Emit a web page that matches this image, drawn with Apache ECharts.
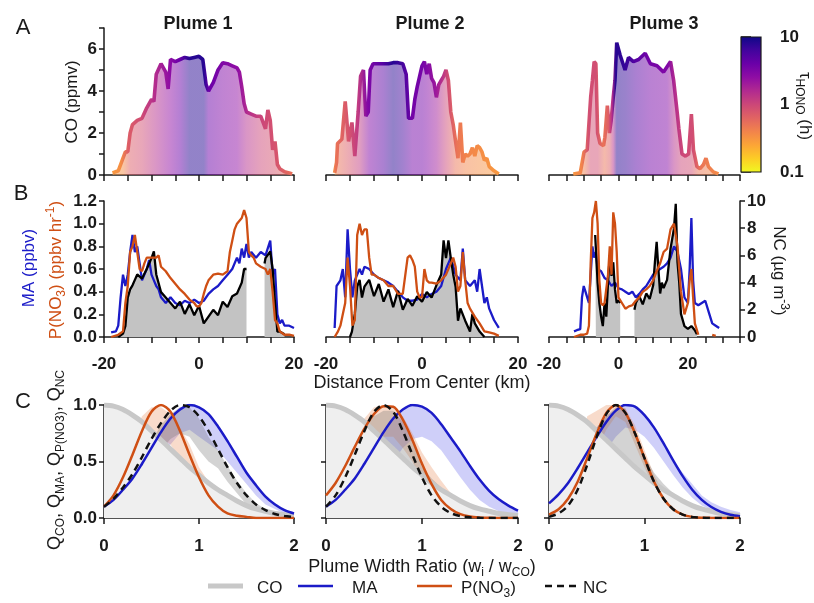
<!DOCTYPE html>
<html>
<head>
<meta charset="utf-8">
<script src="https://cdn.jsdelivr.net/npm/echarts@6/dist/echarts.min.js"></script>
<style>
  html, body { margin: 0; padding: 0; background: #fff; }
  #chart { width: 814px; height: 603px; }
</style>
</head>
<body>
<div id="chart"></div>
<script>
// ---------- A: CO transects (ppmv), colour = HONO lifetime (h) ----------
const coX1 = [-18.2,-17,-16,-15.5,-15,-14.5,-14,-13,-12,-11,-10,-9.5,-9,-8,-7,-6.5,-6,-5,-4,-3,-2,-1,0,0.8,1.5,2,3,4,5,6,7,8,8.5,9,9.5,10,11,12,13,14,14.5,15,15.5,16,16.5,17,18,19,19.6];
const co1  = [0.1,0.2,0.8,1.1,1.1,2.0,2.4,2.6,2.7,3.2,3.6,3.5,4.8,5.3,4.9,4.1,5.5,5.4,5.5,5.6,5.55,5.6,5.65,5.5,4.3,4.0,4.4,5.0,5.35,5.3,5.2,5.1,4.9,4.2,3.4,3.0,2.9,2.8,2.8,2.2,3.1,2.6,1.2,1.6,0.5,0.3,0.15,0.1,0.05];
const coX2 = [-18.2,-17.8,-17.6,-16.7,-16,-15.3,-14.6,-14,-13.3,-12.8,-12.2,-11.7,-11.2,-10.8,-10.2,-9,-8,-7,-6,-5,-4,-3.3,-2.8,-2,-1.5,-1,0,0.5,1,1.5,2,2.5,3,3.5,4,4.5,5,5.5,6,6.5,7,7.5,8,8.5,9,9.5,10,10.5,11,11.5,12,12.5,13,13.5,14,15,16];
const co2  = [0.1,0.6,1.5,1.7,3.5,1.6,2.5,0.9,3.0,4.7,5.0,2.8,3.0,5.0,5.3,5.3,5.3,5.3,5.35,5.35,5.3,4.8,2.7,2.7,3.6,4.2,5.2,5.4,4.8,5.3,4.6,4.4,3.7,4.3,4.5,4.7,5.0,4.5,3.0,2.4,1.6,0.8,2.5,0.6,1.0,0.9,1.0,1.3,0.9,1.4,1.3,1.1,0.7,0.8,0.4,0.2,0.05];
const coX3 = [-13,-11,-9.9,-9,-8,-7.5,-7,-6.5,-6,-5.3,-4.3,-3.9,-3.2,-2.6,-2.1,-1.5,-1,-0.5,0.5,1.9,2.9,4.3,5.8,7.7,9.2,11.1,13,15,15.9,16.9,17.4,18.3,19.3,20.2,21,21.6,22.6,23.5,24.5,25.2,25.9,27.3,28.8];
const co3  = [0.05,0.1,1.1,1.2,3.7,4.5,5.4,5.3,2.0,1.5,1.4,1.8,3.3,2.0,2.6,3.7,4.5,6.3,5.7,5.0,5.6,5.4,5.5,5.8,5.3,5.2,4.9,5.4,4.5,3.0,2.2,1.0,0.9,1.0,2.9,1.2,0.4,0.3,0.5,0.8,0.4,0.15,0.05];

const tauX1 = [-18.2,-16,-14.5,-12,-9,-6,-4,-2,1,2,5,8,10,13,16,19.6];
const tau1  = [0.3,0.35,0.7,0.9,1.5,2.5,4,8,8,4,3,2.5,1.5,1,0.8,0.5];
const tauX2 = [-18.2,-17.5,-15,-13,-11,-8,-6,-4,-2,0,1,3,5,7,9,12,16];
const tau2  = [0.3,0.5,0.8,1.2,3,5,8,6,3.5,3.5,3,2,1,0.5,0.4,0.35,0.3];
const tauX3 = [-13,-10,-8,-6,-4,-2.5,-1.5,-0.5,2,5,9,14,16,18,21,23,28.8];
const tau3  = [0.3,0.4,0.9,0.9,0.5,0.7,1.5,8,7,5,3.5,3,1.5,1,0.9,0.5,0.35];
const tauTicks = ['0.1', '1', '10'];

// ---------- B: MA (ppbv), P(NO3) (ppbv/hr), NC (ug/m3) ----------
const maX1 = [-18.5,-17.5,-17,-16.5,-16,-15.5,-15,-14.5,-14,-13.5,-13,-12.5,-12,-11.5,-11,-10.5,-10,-9.5,-9,-8.5,-8,-7,-6,-5,-4,-3,-2,-1,0,1,2,3,4,5,6,7,8,8.5,9,9.5,10,10.5,11,12,13,14,15,15.5,16,16.5,17,17.5,18,19,20];
const ma1  = [0.04,0.05,0.1,0.35,0.55,0.45,0.55,0.75,0.9,0.75,0.8,0.65,0.5,0.55,0.6,0.68,0.55,0.5,0.45,0.42,0.35,0.3,0.35,0.3,0.28,0.32,0.3,0.33,0.3,0.32,0.38,0.42,0.45,0.5,0.55,0.6,0.7,0.65,0.78,0.7,0.82,0.7,0.75,0.7,0.75,0.72,0.85,0.55,0.6,0.2,0.12,0.15,0.1,0.1,0.08];
const pnX1 = [-18.5,-17,-16,-15.5,-15,-14.5,-14,-13.5,-13,-12.5,-12,-11.5,-11,-10,-9,-8.5,-8,-7,-6,-5,-4,-3,-2,-1,-0.5,0,0.5,1,1.5,2,3,4,5,6,6.5,7,7.5,8,9,9.5,10,10.5,11,11.5,12,13,14,14.5,15,15.5,16,16.5,17,18,19,20];
const pn1  = [0,0.02,0.05,0.3,0.45,0.75,0.8,0.9,0.75,0.6,0.58,0.65,0.7,0.7,0.7,0.72,0.62,0.58,0.52,0.47,0.42,0.38,0.33,0.3,0.27,0.27,0.3,0.38,0.45,0.5,0.55,0.56,0.55,0.58,0.75,0.85,0.95,1.0,1.05,1.12,1.05,0.75,0.72,0.7,0.65,0.62,0.6,0.55,0.6,0.4,0.15,0.12,0.05,0.02,0.02,0.01];
const ncX1 = [-17,-16,-15.5,-15,-14.5,-14,-13.5,-13,-12,-11,-10,-9.5,-9,-8,-7,-6,-5,-4,-3,-2,-1,0,1,2,3,4,5,6,7,8,9,9.5,10,12,13.8,14,15,15.5,16,16.5,17,18];
const nc1  = [0,0.25,0.8,2.9,3.5,3.8,4.2,4.6,4.3,5.0,5.8,6.3,4.6,3.3,2.9,2.5,2.1,2.6,1.7,2.4,1.6,2.3,1.0,1.5,2.0,1.6,2.6,2.2,3.0,3.2,4.0,5.0,5.0,null,5.4,5.8,6.3,5.0,2.5,0.4,0.4,0.2];

const maX2 = [-18.2,-17.8,-17,-16.5,-16,-15.5,-15,-14.5,-14,-13.5,-13,-12.5,-12,-11,-10,-9,-8,-7,-6,-5,-4,-3,-2,-1,0,1,2,3,4,5,6,7,8,8.5,9,10,11,11.5,12,12.5,13,13.5,14,15,16];
const ma2  = [0.08,0.45,0.5,0.6,0.35,0.95,0.6,0.35,0.5,0.55,0.6,0.55,0.62,0.6,0.55,0.52,0.5,0.48,0.45,0.4,0.35,0.32,0.32,0.33,0.38,0.35,0.38,0.4,0.45,0.6,0.7,0.55,0.5,0.78,0.5,0.45,0.5,0.4,0.6,0.45,0.3,0.35,0.25,0.15,0.08];
const pnX2 = [-18.2,-17.5,-17,-16.5,-16,-15.5,-15,-14.5,-14,-13.5,-13,-12.5,-12,-11.5,-11,-10.5,-10,-9,-8,-7,-6,-5,-4,-3,-2.5,-2,-1.5,-1,-0.5,0,0.5,1,1.5,2,3,4,5,6,6.5,7,7.5,8,8.5,9,9.5,10,11,12,13,14,15,16];
const pn2  = [0,0.05,0.1,0.2,0.3,0.7,0.45,0.1,0.15,0.9,1.0,0.9,0.95,0.95,0.7,0.55,0.55,0.52,0.5,0.45,0.45,0.38,0.38,0.7,0.72,0.68,0.62,0.4,0.35,0.35,0.6,0.5,0.48,0.48,0.47,0.5,0.55,0.65,0.7,0.62,0.4,0.45,0.75,0.5,0.3,0.25,0.18,0.12,0.05,0.04,0.03,0.01];
const ncX2 = [-15,-14.6,-14,-13.5,-13,-12.5,-12,-11,-10,-9,-8,-7,-6,-5,-4,-3,-2,-1,0,1,2,3,4,4.5,5,5.5,6,6.5,7,7.5,8,9,10,10.5,11,12,13];
const nc2  = [0,0.4,1.7,3.7,4.2,2.9,3.7,4.2,3.0,3.9,2.6,3.5,2.2,3.4,2.0,2.8,2.3,3.0,2.6,3.3,2.9,3.8,4.6,7.1,5.8,7.1,5.8,4.6,3.7,1.2,2.1,1.2,0.4,1.7,1.0,0.4,0];

const maX3 = [-12.8,-12,-11,-10.5,-10,-9.5,-9,-8.5,-8,-7.5,-7,-6.5,-6,-5,-4,-3,-2,-1,0,1,2,3,4,5,6,7,8,9,10,11,12,13,14,15,16,17,18,19,20,20.5,21,21.5,22,23,24,25,26,27,28,29];
const ma3  = [0.05,0.06,0.07,0.35,0.45,0.4,0.35,0.3,0.55,0.8,0.7,0.75,0.6,0.58,0.52,0.5,0.45,0.48,0.43,0.42,0.4,0.38,0.4,0.35,0.38,0.42,0.45,0.5,0.55,0.58,0.6,0.62,0.65,0.7,0.8,0.75,0.6,0.35,0.3,0.6,1.05,0.5,0.3,0.28,0.3,0.32,0.22,0.12,0.1,0.08];
const pnX3 = [-12.8,-11,-10,-9,-8.5,-8,-7.5,-7,-6.5,-6,-5.5,-5,-4.5,-4,-3,-2.5,-2,-1.5,-1,-0.5,0,1,2,3,4,5,6,7,8,9,10,11,12,13,14,15,16,17,18,19,20,20.5,21,21.5,22,23,25,27,28];
const pn3  = [0,0.02,0.02,0.03,0.1,0.65,1.05,1.1,1.2,1.0,0.5,0.3,0.28,0.3,0.55,0.8,0.55,1.1,1.0,0.75,0.35,0.3,0.25,0.27,0.28,0.32,0.35,0.4,0.42,0.45,0.5,0.58,0.65,0.75,0.78,0.95,1.0,0.8,0.4,0.2,0.3,0.5,0.6,0.35,0.12,0.02,null,0.02,0.01];
const ncX3 = [-6.7,-6.5,-6,-5.5,-5,-4.5,-4,-3.5,-3,-2.5,-2,-1.5,-1,-0.5,0,0.5,2,4.6,5,6,7,8,9,10,10.5,11,11.5,12,12.5,13,14,15,16,16.5,17,17.5,18,19,20,21,22,22.6];
const nc3  = [7.5,6.5,4.0,2.5,1.5,0.8,2.5,1.5,4.0,6.0,4.5,5.5,3.5,2.5,2.7,2.5,null,2.0,2.5,3.0,2.4,3.2,2.8,3.8,5.5,7.0,5.0,3.2,4.0,3.6,4.2,6.5,8.0,9.8,5.5,4.0,1.7,0.8,0.6,0.8,0.5,0.2];

// ---------- C: normalised profiles vs plume width ratio ----------
const wr    = [0,0.1,0.2,0.3,0.4,0.5,0.6,0.7,0.8,0.9,1.0,1.1,1.2,1.3,1.4,1.5,1.6,1.7,1.8,1.9,2.0];
const coFit = [1.0,0.99,0.96,0.91,0.85,0.77,0.69,0.61,0.53,0.45,0.38,0.31,0.25,0.2,0.15,0.11,0.08,0.06,0.04,0.03,0.02];

const maFit1 = [0.1,0.16,0.25,0.35,0.48,0.62,0.76,0.88,0.96,1.0,0.98,0.92,0.81,0.68,0.54,0.4,0.29,0.19,0.12,0.07,0.04];
const pnFit1 = [0.1,0.2,0.36,0.56,0.77,0.94,1.0,0.94,0.77,0.56,0.36,0.2,0.1,0.04,0.02,0.01,0,0,0,0,0];
const ncFit1 = [0.1,0.17,0.27,0.39,0.54,0.7,0.84,0.95,1.0,0.98,0.9,0.77,0.61,0.45,0.31,0.2,0.12,0.07,0.035,0.017,0.008];
const maLo1 = [0.12,0.15,0.2,0.28,0.35,0.42,0.55,0.65,0.75,0.78,0.72,0.66,0.6,0.5,0.4,0.3,0.2,0.12,0.08,0.04,0.02];
const maHi1 = [0.3,0.28,0.3,0.38,0.5,0.62,0.78,0.9,0.98,1.0,0.98,0.92,0.82,0.7,0.56,0.42,0.3,0.2,0.13,0.08,0.05];
const pnLo1 = [0.1,0.15,0.3,0.45,0.6,0.68,0.7,0.65,0.52,0.4,0.25,0.15,0.1,0.07,0.05,0.03,0.02,0.01,0,0,0];
const pnHi1 = [0.2,0.3,0.5,0.72,0.9,0.98,0.98,0.92,0.8,0.65,0.45,0.32,0.25,0.2,0.15,0.1,0.06,0.03,0.02,0.01,0];
const ncLo1 = [0.1,0.12,0.18,0.3,0.4,0.5,0.6,0.7,0.75,0.72,0.6,0.5,0.44,0.32,0.22,0.12,0.07,0.05,0.03,0.01,0];
const ncHi1 = [0.38,0.3,0.3,0.42,0.55,0.68,0.82,0.92,0.98,0.98,0.88,0.72,0.6,0.46,0.33,0.22,0.13,0.08,0.05,0.02,0.01];

const maFit2 = [0.1,0.16,0.25,0.35,0.48,0.62,0.76,0.88,0.96,1.0,0.985,0.93,0.83,0.71,0.59,0.46,0.34,0.24,0.165,0.11,0.066];
const pnFit2 = [0.2,0.31,0.46,0.63,0.79,0.92,0.99,0.985,0.87,0.69,0.48,0.3,0.16,0.08,0.034,0.013,0.005,0.002,0,0,0];
const ncFit2 = [0.1,0.2,0.36,0.56,0.77,0.94,1.0,0.94,0.77,0.56,0.36,0.2,0.1,0.043,0.017,0.006,0.002,0,0,0,0];
const maLo2 = [0.22,0.3,0.3,0.3,0.32,0.35,0.4,0.5,0.62,0.7,0.72,0.68,0.6,0.48,0.36,0.25,0.16,0.1,0.06,0.03,0.02];
const maHi2 = [0.46,0.47,0.5,0.55,0.6,0.65,0.76,0.88,0.96,1.0,0.985,0.93,0.83,0.71,0.59,0.46,0.34,0.24,0.165,0.11,0.066];
const pnLo2 = [0.2,0.25,0.35,0.45,0.55,0.65,0.72,0.72,0.62,0.5,0.3,0.25,0.15,0.08,0.04,0.02,0.01,0,0,0,0];
const pnHi2 = [0.45,0.45,0.5,0.7,0.88,0.98,1.0,0.99,0.9,0.75,0.58,0.45,0.33,0.22,0.12,0.06,0.03,0.01,0,0,0];
const ncLo2 = [0.1,0.12,0.25,0.4,0.5,0.55,0.6,0.6,0.55,0.45,0.3,0.2,0.12,0.07,0.04,0.02,0.01,0,0,0,0];
const ncHi2 = [0.3,0.35,0.5,0.72,0.85,0.9,0.95,0.95,0.85,0.68,0.45,0.35,0.27,0.2,0.14,0.09,0.05,0.03,0.02,0.01,0];

const maFit3 = [0.13,0.21,0.31,0.44,0.58,0.72,0.85,0.95,1.0,0.985,0.91,0.8,0.66,0.51,0.37,0.25,0.16,0.097,0.055,0.029,0.015];
const pnFit3 = [0.03,0.077,0.17,0.32,0.53,0.75,0.93,1.0,0.93,0.75,0.53,0.32,0.17,0.077,0.03,0.01,0.003,0.001,0,0,0];
const ncFit3 = [0.01,0.04,0.11,0.25,0.47,0.72,0.92,1.0,0.93,0.75,0.53,0.32,0.17,0.077,0.03,0.01,0.003,0,0,0,0];
const maLo3 = [0.2,0.22,0.25,0.3,0.45,0.5,0.6,0.72,0.8,0.78,0.72,0.62,0.5,0.38,0.27,0.18,0.11,0.07,0.04,0.02,0.01];
const maHi3 = [0.36,0.35,0.36,0.45,0.75,0.8,0.9,0.97,1.0,0.985,0.91,0.8,0.66,0.51,0.4,0.3,0.2,0.14,0.1,0.07,0.05];
const pnLo3 = [0.02,0.05,0.12,0.25,0.42,0.6,0.78,0.9,0.85,0.65,0.45,0.27,0.13,0.05,0.02,0.01,0,0,0,0,0];
const pnHi3 = [0.1,0.12,0.2,0.45,0.9,0.95,1.0,1.0,0.97,0.82,0.6,0.38,0.22,0.11,0.05,0.02,0.01,0,0,0,0];
const ncLo3 = [0.01,0.03,0.08,0.2,0.35,0.4,0.45,0.5,0.5,0.42,0.3,0.22,0.15,0.1,0.07,0.05,0.03,0.02,0.01,0,0];
const ncHi3 = [0.15,0.15,0.2,0.4,0.7,0.8,0.9,0.98,0.97,0.78,0.55,0.4,0.3,0.22,0.16,0.12,0.09,0.06,0.04,0.02,0.01];

// ---------- styling ----------
const FONT = '"Liberation Sans", Arial, Helvetica, sans-serif';
const INK = '#1a1a1a';
const BLUE = '#1b1bc8';
const ORANGE = '#cf4f14';
const PLASMA = ['#0d0887','#41049d','#6a00a8','#8f0da4','#b12a90','#cc4778','#e16462','#f2844b','#fca636','#fcce25','#f0f921'];

const colLeft = [104, 326, 549];
const colWidth = [190, 192, 191];
const rowTop = [28, 201, 405];
const rowHeight = [147, 136, 113];
const xMax = [20, 20, 35];

const zip = (xs, ys) => xs.map((x, i) => [x, ys[i]]);

function hexRgb(h) {
  return [parseInt(h.slice(1, 3), 16), parseInt(h.slice(3, 5), 16), parseInt(h.slice(5, 7), 16)];
}
function plasma(t) {
  t = Math.max(0, Math.min(1, t));
  const pos = t * (PLASMA.length - 1);
  const i = Math.min(Math.floor(pos), PLASMA.length - 2);
  const f = pos - i;
  const a = hexRgb(PLASMA[i]), b = hexRgb(PLASMA[i + 1]);
  return 'rgb(' + a.map((v, k) => Math.round(v + (b[k] - v) * f)).join(',') + ')';
}
// 10 h -> dark end, 0.1 h -> yellow end
const tauColor = tau => plasma((1 - Math.log10(tau)) / 2);

function tauGradient(xs, tx, tv) {
  const x0 = xs[0], x1 = xs[xs.length - 1];
  const stops = tx.map((x, i) => ({
    offset: Math.max(0, Math.min(1, (x - x0) / (x1 - x0))),
    color: tauColor(tv[i])
  }));
  return new echarts.graphic.LinearGradient(0, 0, 1, 0, stops);
}

const axisLine = { show: true, onZero: false, lineStyle: { color: INK, width: 1.5 } };
const tick = len => ({ show: true, length: len, lineStyle: { color: INK, width: 1.5 } });
const lbl = extra => Object.assign({ color: INK, fontSize: 17, fontWeight: 'bold', fontFamily: FONT }, extra);

// ---------- grids / axes ----------
const grid = [];
for (let r = 0; r < 3; r++) {
  for (let c = 0; c < 3; c++) {
    grid.push({ left: colLeft[c], width: colWidth[c], top: rowTop[r], height: rowHeight[r],
      containLabel: false, outerBoundsMode: 'none' });
  }
}
grid.push({ left: 741, top: 37, width: 20, height: 135, containLabel: false, outerBoundsMode: 'none' });

const xAxis = [];
for (let p = 0; p < 3; p++) {
  xAxis.push({ type: 'value', gridIndex: p, min: -20, max: xMax[p], interval: 5,
    axisLine, axisTick: tick(6), axisLabel: { show: false }, splitLine: { show: false } });
}
for (let p = 0; p < 3; p++) {
  xAxis.push({ type: 'value', gridIndex: 3 + p, min: -20, max: xMax[p], interval: 5,
    axisLine, axisTick: tick(6), splitLine: { show: false },
    axisLabel: lbl({ margin: 19, formatter: v => (v % 20 === 0 ? String(v) : '') }) });
}
for (let p = 0; p < 3; p++) {
  xAxis.push({ type: 'value', gridIndex: 6 + p, min: 0, max: 2, interval: 1,
    axisLine, axisTick: tick(6), splitLine: { show: false }, axisLabel: lbl({ margin: 20 }) });
}
xAxis.push({ type: 'value', gridIndex: 9, min: 0, max: 1, show: false });

const yAxis = [];
for (let p = 0; p < 3; p++) { // 0-2 CO
  yAxis.push({ type: 'value', gridIndex: p, min: 0, max: 7, interval: 1, show: p === 0,
    axisLine, axisTick: tick(5), splitLine: { show: false },
    axisLabel: lbl({ margin: 7, formatter: v => (v % 2 === 0 ? String(v) : '') }) });
}
for (let p = 0; p < 3; p++) { // 3-5 ppbv
  yAxis.push({ type: 'value', gridIndex: 3 + p, min: 0, max: 1.2, interval: 0.2, show: p === 0,
    axisLine, axisTick: tick(5), splitLine: { show: false },
    axisLabel: lbl({ margin: 7, formatter: v => v.toFixed(1) }) });
}
for (let p = 0; p < 3; p++) { // 6-8 NC
  yAxis.push({ type: 'value', gridIndex: 3 + p, min: 0, max: 10, interval: 2, position: 'right',
    show: p === 2, axisLine, axisTick: tick(5), splitLine: { show: false },
    axisLabel: lbl({ margin: 7 }) });
}
for (let p = 0; p < 3; p++) { // 9-11 Q
  yAxis.push({ type: 'value', gridIndex: 6 + p, min: 0, max: 1, interval: 0.5,
    axisLine, axisTick: tick(5), splitLine: { show: false },
    axisLabel: lbl({ margin: 7, show: p === 0, formatter: v => v.toFixed(1) }) });
}
yAxis.push({ type: 'value', gridIndex: 9, min: -1, max: 1, interval: 1, position: 'right',
  axisLine: { show: false }, axisTick: tick(10), splitLine: { show: false },
  axisLabel: lbl({ margin: 19, formatter: v => tauTicks[Math.round(v) + 1] }) });

// ---------- series ----------
const series = [];
const coXs = [coX1, coX2, coX3], coVs = [co1, co2, co3];
const tauXs = [tauX1, tauX2, tauX3], tauVs = [tau1, tau2, tau3];
for (let p = 0; p < 3; p++) {
  series.push({
    type: 'line', name: 'co' + p, xAxisIndex: p, yAxisIndex: p, symbol: 'none', silent: true,
    data: zip(coXs[p], coVs[p]),
    lineStyle: { width: 3.6, color: tauGradient(coXs[p], tauXs[p], tauVs[p]) },
    areaStyle: { color: tauGradient(coXs[p], tauXs[p], tauVs[p]), opacity: 0.5 }
  });
}

const maXs = [maX1, maX2, maX3], maVs = [ma1, ma2, ma3];
const pnXs = [pnX1, pnX2, pnX3], pnVs = [pn1, pn2, pn3];
const ncXs = [ncX1, ncX2, ncX3], ncVs = [nc1, nc2, nc3];
for (let p = 0; p < 3; p++) {
  series.push({ type: 'line', name: 'ncArea' + p, xAxisIndex: 3 + p, yAxisIndex: 6 + p, symbol: 'none',
    silent: true, data: zip(ncXs[p], ncVs[p]), lineStyle: { width: 0 },
    areaStyle: { color: '#c3c3c3', opacity: 1 } });
  series.push({ type: 'line', name: 'ma' + p, xAxisIndex: 3 + p, yAxisIndex: 3 + p, symbol: 'none',
    silent: true, data: zip(maXs[p], maVs[p]), lineStyle: { width: 2.3, color: BLUE } });
  series.push({ type: 'line', name: 'nc' + p, xAxisIndex: 3 + p, yAxisIndex: 6 + p, symbol: 'none',
    silent: true, data: zip(ncXs[p], ncVs[p]), lineStyle: { width: 2.3, color: '#000' } });
  series.push({ type: 'line', name: 'pn' + p, xAxisIndex: 3 + p, yAxisIndex: 3 + p, symbol: 'none',
    silent: true, data: zip(pnXs[p], pnVs[p]), lineStyle: { width: 2.3, color: ORANGE } });
}

function band(p, lo, hi, fill) {
  return {
    type: 'custom', name: 'band', xAxisIndex: 6 + p, yAxisIndex: 9 + p, silent: true,
    data: [[1, 0.5]],
    renderItem: (params, api) => {
      const top = [], bottom = [];
      wr.forEach((x, i) => {
        if (lo[i] == null || hi[i] == null) return;
        top.push(api.coord([x, hi[i]]));
        bottom.push(api.coord([x, lo[i]]));
      });
      return { type: 'polygon', shape: { points: top.concat(bottom.reverse()) }, style: { fill } };
    }
  };
}

const maFits = [maFit1, maFit2, maFit3], pnFits = [pnFit1, pnFit2, pnFit3], ncFits = [ncFit1, ncFit2, ncFit3];
const bands = [
  [maLo1, maHi1, pnLo1, pnHi1, ncLo1, ncHi1],
  [maLo2, maHi2, pnLo2, pnHi2, ncLo2, ncHi2],
  [maLo3, maHi3, pnLo3, pnHi3, ncLo3, ncHi3]
];
for (let p = 0; p < 3; p++) {
  const ax = { xAxisIndex: 6 + p, yAxisIndex: 9 + p };
  series.push(Object.assign({ type: 'line', name: 'CO', symbol: 'none', silent: true, smooth: 0.3,
    data: zip(wr, coFit), lineStyle: { width: 5, color: '#c8c8c8' },
    areaStyle: { color: '#efefef', opacity: 1 } }, ax));
  const b = bands[p];
  series.push(band(p, b[0], b[1], 'rgba(95,95,235,0.3)'));
  series.push(band(p, b[2], b[3], 'rgba(230,125,70,0.28)'));
  series.push(band(p, b[4], b[5], 'rgba(110,110,110,0.3)'));
  series.push(Object.assign({ type: 'line', name: 'MA', symbol: 'none', silent: true, smooth: 0.3,
    data: zip(wr, maFits[p]), lineStyle: { width: 2.5, color: BLUE } }, ax));
  series.push(Object.assign({ type: 'line', name: 'P(NO3)', symbol: 'none', silent: true, smooth: 0.3,
    data: zip(wr, pnFits[p]), lineStyle: { width: 2.5, color: ORANGE } }, ax));
  series.push(Object.assign({ type: 'line', name: 'NC', symbol: 'none', silent: true, smooth: 0.3,
    data: zip(wr, ncFits[p]), lineStyle: { width: 2.5, color: '#111', type: [7, 5] } }, ax));
}

// colour bar for tau_HONO
series.push({
  type: 'custom', name: 'colorbar', xAxisIndex: 9, yAxisIndex: 12, silent: true,
  data: [[0.5, 0]],
  renderItem: (params, api) => {
    const a = api.coord([0, 1]), b = api.coord([1, -1]);
    const stops = PLASMA.map((c, i) => ({ offset: i / (PLASMA.length - 1), color: c }));
    return { type: 'rect', shape: { x: a[0], y: a[1], width: b[0] - a[0], height: b[1] - a[1] },
      style: { fill: new echarts.graphic.LinearGradient(0, 0, 0, 1, stops), stroke: INK, lineWidth: 1.2 } };
  }
});

// ---------- texts ----------
function label(text, x, y, opt) {
  opt = opt || {};
  const color = opt.color || INK;
  const size = opt.size || 17;
  const small = Math.round(size * 0.68);
  return {
    type: 'text', x, y, rotation: opt.rotation || 0, silent: true, z: 10,
    style: {
      text, fill: color, fontSize: size, fontWeight: opt.bold ? 'bold' : 'normal', fontFamily: FONT,
      lineHeight: size + 6, align: opt.align || 'center', verticalAlign: 'middle',
      textAlign: opt.align || 'center', textVerticalAlign: 'middle',
      rich: {
        sub: { fontSize: small, lineHeight: 10, verticalAlign: 'bottom', fill: color, fontFamily: FONT },
        sup: { fontSize: small, lineHeight: 10, verticalAlign: 'top', fill: color, fontFamily: FONT }
      }
    }
  };
}
const R = Math.PI / 2;
const graphic = [
  label('A', 23, 28, { size: 22 }),
  label('B', 21, 194, { size: 22 }),
  label('C', 23, 402, { size: 22 }),
  label('Plume 1', 198, 24, { size: 18, bold: true }),
  label('Plume 2', 430, 24, { size: 18, bold: true }),
  label('Plume 3', 664, 24, { size: 18, bold: true }),
  label('CO (ppmv)', 72, 102, { rotation: R }),
  label('MA (ppbv)', 29, 268, { rotation: R, color: BLUE }),
  label('P(NO{sub|3}) (ppbv hr{sup|-1})', 56, 270, { rotation: R, color: ORANGE }),
  label('NC (µg m{sup|-3})', 779, 271, { rotation: -R }),
  label('τ{sub|HONO} (h)', 805, 106, { rotation: -R }),
  label('Distance From Center (km)', 422, 383, { size: 18 }),
  label('Q{sub|CO}, Q{sub|MA}, Q{sub|P(NO3)}, Q{sub|NC}', 55, 460, { rotation: R, size: 18 }),
  label('Plume Width Ratio (w{sub|i} / w{sub|CO})', 422, 567, { size: 18 }),
  // legend
  { type: 'line', silent: true, shape: { x1: 208, y1: 586, x2: 243, y2: 586 }, style: { stroke: '#c8c8c8', lineWidth: 5 } },
  label('CO', 257, 588, { align: 'left' }),
  { type: 'line', silent: true, shape: { x1: 298, y1: 586, x2: 333, y2: 586 }, style: { stroke: BLUE, lineWidth: 2.5 } },
  label('MA', 352, 588, { align: 'left' }),
  { type: 'line', silent: true, shape: { x1: 417, y1: 586, x2: 452, y2: 586 }, style: { stroke: ORANGE, lineWidth: 2.5 } },
  label('P(NO{sub|3})', 461, 588, { align: 'left' }),
  { type: 'line', silent: true, shape: { x1: 545, y1: 586, x2: 577, y2: 586 }, style: { stroke: '#111', lineWidth: 2.5, lineDash: [7, 5] } },
  label('NC', 583, 588, { align: 'left' })
];

const chart = echarts.init(document.getElementById('chart'), null, { renderer: 'canvas' });
chart.setOption({
  animation: false,
  backgroundColor: '#ffffff',
  grid, xAxis, yAxis, series, graphic
});
</script>
</body>
</html>
